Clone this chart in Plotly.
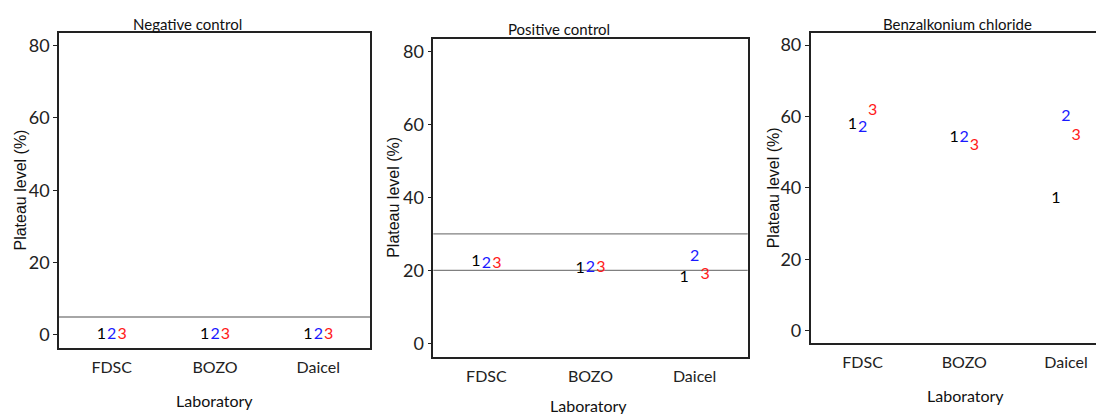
import plotly.graph_objects as go

# ---------------- data ----------------
labs = ["FDSC", "BOZO", "Daicel"]
runs = ["1", "2", "3"]
run_colors = ["black", "#1a1aff", "#ff1a1a"]

neg_run1 = [0, 0, 0]
neg_run2 = [0, 0, 0]
neg_run3 = [0, 0, 0]
neg_lines = [5]

pos_run1 = [22.3, 20.4, 17.8]
pos_run2 = [21.8, 20.6, 23.8]
pos_run3 = [21.8, 20.6, 18.7]
pos_lines = [20, 30]

bzk_run1 = [57.6, 53.9, 36.8]
bzk_run2 = [56.7, 54.1, 59.8]
bzk_run3 = [61.6, 51.7, 54.6]
bzk_lines = []

panel_titles = ["Negative control", "Positive control", "Benzalkonium chloride"]
y_ticks = [0, 20, 40, 60, 80]

# ---------------- layout geometry ----------------
OFF = 8  # page body margin offset
W, H = 1104 - OFF, 414 - OFF
FONT = "Lato, Roboto, sans-serif"
SANS = "Liberation Sans, Arial, sans-serif"


def fx(px):
    return (px - OFF) / W


def fy(py):
    return 1 - (py - OFF) / H


panels = [
    dict(runs=[neg_run1, neg_run2, neg_run3], lines=neg_lines, line_color="#a6a6a6", line_w=2,
         px=(59, 370), py=(33, 348), xr=[0.49, 3.5], yr=[-3.6, 83.5], mirror_y=True,
         title_xy=(187, 24), ytitle_x=20, xtitle_y=400),
    dict(runs=[pos_run1, pos_run2, pos_run3], lines=pos_lines, line_color="#808080", line_w=1.2,
         px=(433.3, 747.7), py=(39, 356.7), xr=[0.49, 3.51], yr=[-3.7, 83.5], mirror_y=True,
         title_xy=(559, 29), ytitle_x=394, xtitle_y=405),
    dict(runs=[bzk_run1, bzk_run2, bzk_run3], lines=bzk_lines, line_color="#808080", line_w=1.2,
         px=(810.7, 1104), py=(33.3, 343.3), xr=[0.49, 3.374], yr=[-3.5, 83.3], mirror_y=False,
         title_xy=(957, 24), ytitle_x=773, xtitle_y=395),
]

fig = go.Figure()
annotations = []
shapes = []
offsets = [-0.1, 0.0, 0.1]

for i, p in enumerate(panels):
    n = "" if i == 0 else str(i + 1)
    xa, ya = "x" + n, "y" + n
    for r, vals in enumerate(p["runs"]):
        fig.add_trace(go.Scatter(
            x=[k + 1 + offsets[r] for k in range(len(labs))], y=vals,
            mode="text", text=[runs[r]] * len(vals), textposition="middle center",
            textfont=dict(family=FONT, size=16, color=run_colors[r]),
            xaxis=xa, yaxis=ya, showlegend=False, hoverinfo="skip"))
    for v in p["lines"]:
        shapes.append(dict(type="line", xref=xa + " domain", yref=ya, x0=0, x1=1, y0=v, y1=v,
                           line=dict(color=p["line_color"], width=p["line_w"]), layer="below"))
    dom_x = [fx(p["px"][0]), min(1.0, fx(p["px"][1]))]
    dom_y = [fy(p["py"][1]), fy(p["py"][0])]
    fig.layout["xaxis" + n] = dict(
        domain=dom_x, range=p["xr"], anchor=ya, tickvals=[1, 2, 3], ticktext=labs,
        ticks="", showgrid=False, zeroline=False, showline=True, linecolor="#222", linewidth=1.6,
        mirror=True, tickfont=dict(family=FONT, size=16, color="#222"), ticklabelstandoff=4)
    fig.layout["yaxis" + n] = dict(
        domain=dom_y, range=p["yr"], anchor=xa, tickvals=y_ticks, ticks="outside", ticklen=4,
        tickcolor="#222", showgrid=False, zeroline=False, showline=True, linecolor="#222",
        linewidth=1.6, mirror=p["mirror_y"], tickfont=dict(family=FONT, size=18, color="#222"))
    tx, ty = p["title_xy"]
    annotations.append(dict(text=panel_titles[i], x=fx(tx), y=fy(ty), xref="paper", yref="paper",
                            showarrow=False, xanchor="center", yanchor="middle",
                            font=dict(family=FONT, size=15, color="#111")))
    annotations.append(dict(text="Plateau level (%)", x=fx(p["ytitle_x"]),
                            y=(dom_y[0] + dom_y[1]) / 2, xref="paper", yref="paper",
                            showarrow=False, textangle=-90, xanchor="center", yanchor="middle",
                            font=dict(family=SANS, size=16, color="#111")))
    annotations.append(dict(text="Laboratory", x=fx(p["px"][0] + 155), y=fy(p["xtitle_y"]),
                            xref="paper", yref="paper", showarrow=False, xanchor="center",
                            yanchor="middle", font=dict(family=FONT, size=16, color="#111")))

fig.update_layout(width=W, height=H, margin=dict(l=0, r=0, t=0, b=0),
                  plot_bgcolor="white", paper_bgcolor="white",
                  annotations=annotations, shapes=shapes)

fig.write_html("out.html")
